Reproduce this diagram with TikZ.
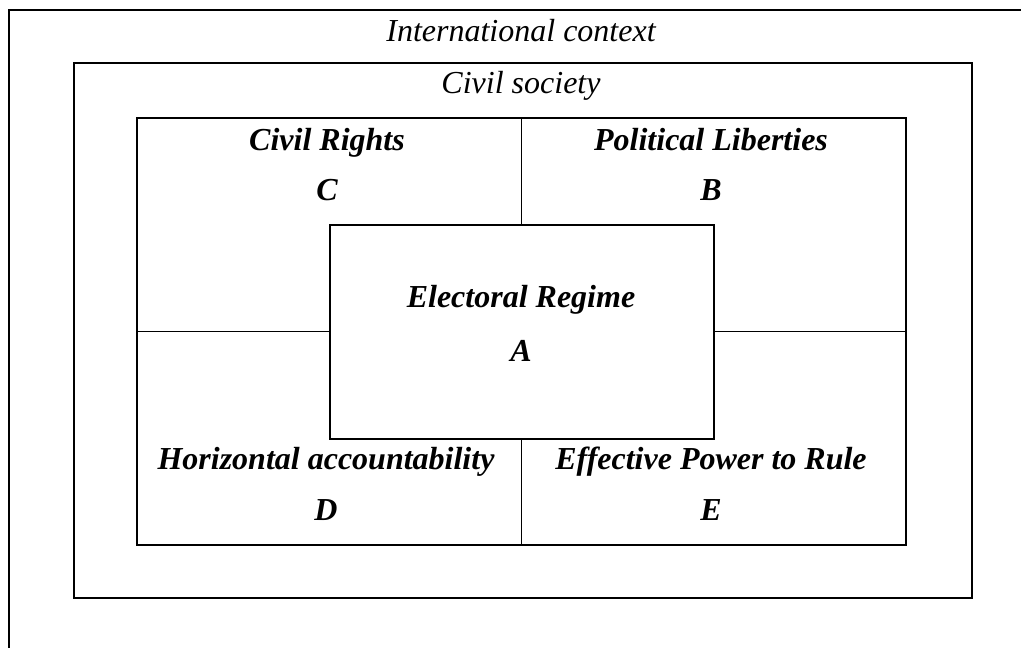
\documentclass[tikz,border=0pt]{standalone}
\usepackage{fontspec}
\setmainfont{Liberation Serif}
\usepackage{tikz}
\usetikzlibrary{positioning}
\tikzstyle{frame} = [draw=black, line width=2.5pt, inner sep=0pt, outer sep=0pt]
\tikzstyle{heading} = [draw=none, fill=none, inner sep=0pt, anchor=base, font=\fontsize{32}{37}\selectfont\bfseries\itshape]
\tikzstyle{context} = [draw=none, fill=none, inner sep=0pt, anchor=base, font=\fontsize{32}{38}\selectfont\itshape]
\tikzstyle{divider} = [line width=1.7pt]

\begin{document}
\begin{tikzpicture}[x=1pt, y=-1pt]

\path[use as bounding box, fill=white] (0,0) rectangle (1021,648);

% frames =============================

% international context (runs off the page)
\draw[line width=2.3pt] (1021,10) -- (9,10) -- (9,648);
\node[context] (ic) at (521,41) {International context};

% civil society
\node[frame, line width=2.8pt, minimum width=898pt, minimum height=535pt] (cs) at (523,330.5) {};
\node[context] (csl) at (521,93) {Civil society};

% quadrants
\node[frame, minimum width=769pt, minimum height=427pt] (grid) at (521.5,331.5) {};
\draw[divider] (grid.north) -- (grid.south);
\draw[divider] (grid.west) -- (grid.east);

% electoral regime
\node[frame, fill=white, minimum width=384pt, minimum height=214pt] (er) at (522,332) {};

% labels =============================

\node[heading] (cr) at (327,150) {Civil Rights};
\node[heading] (c) at ([yshift=-50pt]cr.base) {C};

\node[heading] (pl) at (711,150) {Political Liberties};
\node[heading] (b) at ([yshift=-50pt]pl.base) {B};

\node[heading] (erl) at (521,307) {Electoral Regime};
\node[heading] (a) at ([yshift=-54pt]erl.base) {A};

\node[heading] (ha) at (326,469) {Horizontal accountability};
\node[heading] (d) at ([yshift=-51pt]ha.base) {D};

\node[heading] (ep) at (711,469) {Effective Power to Rule};
\node[heading] (e) at ([yshift=-51pt]ep.base) {E};

\end{tikzpicture}
\end{document}
